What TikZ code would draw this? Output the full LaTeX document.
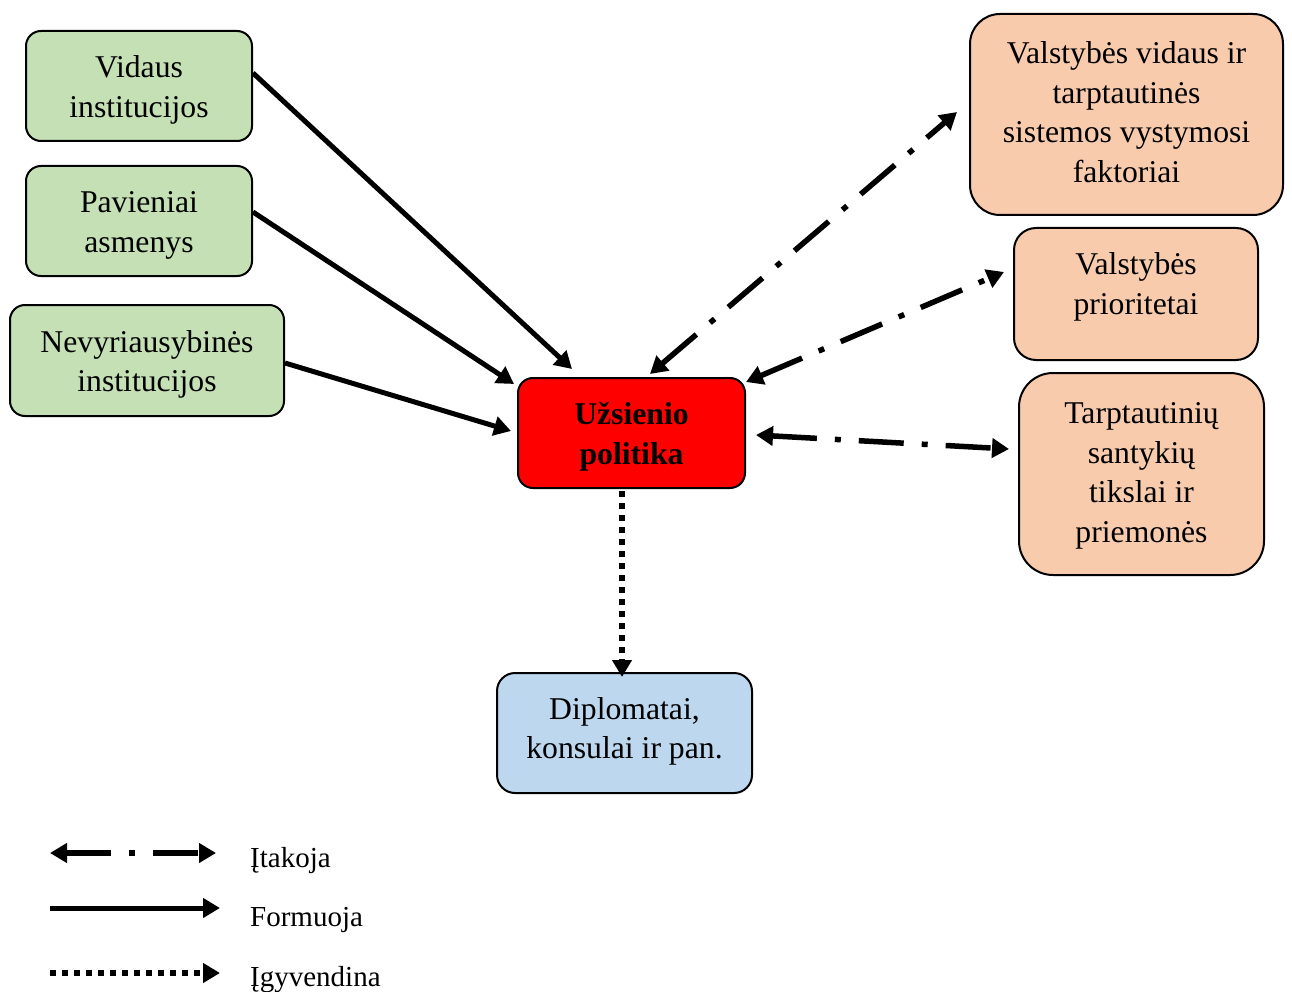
\documentclass[tikz,border=0pt]{standalone}
\usepackage{fontspec}
\setmainfont{Liberation Serif}
\usetikzlibrary{arrows.meta,calc}
\definecolor{boxgreen}{HTML}{C5E0B4}
\definecolor{boxred}{HTML}{FF0000}
\definecolor{boxblue}{HTML}{BDD7EE}
\definecolor{boxorange}{HTML}{F8CBAD}
\tikzset{
  box/.style={draw=black, line width=2pt, align=center, inner sep=2pt,
    font=\fontsize{31.7pt}{39.5pt}\selectfont},
  twolines/.style={text height=70.5pt, text depth=8pt},
  fourlines/.style={text height=144pt, text depth=8pt},
  greenbox/.style={box, twolines, fill=boxgreen, rounded corners=15pt},
  orangebox/.style={box, fill=boxorange},
  formarrow/.style={line width=5pt, -{Triangle[length=17pt,width=19pt]}},
  inflarrow/.style={line width=5.5pt, {Triangle[length=17pt,width=19pt]}-{Triangle[length=17pt,width=19pt]},
    dash pattern=on 45pt off 18pt on 6pt off 18pt},
  implarrow/.style={line width=5.5pt, -{Triangle[length=17pt,width=19pt]},
    dash pattern=on 5.5pt off 6.5pt},
  legendtext/.style={anchor=west, inner sep=0pt, font=\fontsize{29pt}{34pt}\selectfont}
}
\begin{document}
\begin{tikzpicture}[x=1pt, y=-1pt]
\useasboundingbox (0,0) rectangle (1292,992);

\node[greenbox, minimum width=226pt, minimum height=110pt] (vid) at (139,86) {Vidaus\\institucijos};
\node[greenbox, minimum width=226pt, minimum height=110pt] (pav) at (139,221) {Pavieniai\\asmenys};
\node[greenbox, minimum width=274pt, minimum height=111pt] (nev) at (147,360.5) {Nevyriausybinės\\institucijos};

\node[box, twolines, fill=boxred, rounded corners=15pt, minimum width=227pt, minimum height=110pt, font=\fontsize{31.7pt}{39.5pt}\selectfont\bfseries] (pol) at (631.5,433) {Užsienio\\politika};

\node[box, twolines, text depth=19pt, fill=boxblue, rounded corners=18pt, minimum width=255pt, minimum height=120pt] (dip) at (624.5,733) {Diplomatai,\\konsulai ir pan.};

\node[orangebox, fourlines, rounded corners=30pt, minimum width=313pt, minimum height=201pt] (val) at (1126.5,114.5) {Valstybės vidaus ir\\tarptautinės\\sistemos vystymosi\\faktoriai};
\node[orangebox, twolines, text depth=30pt, rounded corners=22pt, minimum width=244pt, minimum height=132pt] (pri) at (1136,294) {Valstybės\\prioritetai};
\node[orangebox, fourlines, rounded corners=34pt, minimum width=245pt, minimum height=202pt] (tar) at (1141.5,474) {Tarptautinių\\santykių\\tikslai ir\\priemonės};

% Formuoja
\draw[formarrow] ($(vid.east)+(0,-13)$) -- ($(pol.north)+(-59.5,-8)$);
\draw[formarrow] ($(pav.east)+(0,-9)$) -- ($(pol.north west)+(-3,7)$);
\draw[formarrow] ($(nev.east)+(0,2.5)$) -- ($(pol.west)+(-6,-2)$);

% Itakoja
\draw[inflarrow] ($(pol.north)+(18.5,-3)$) -- ($(val.west)+(-12,-2.5)$);
\draw[inflarrow] ($(pol.north east)+(0,5)$) -- ($(pri.west)+(-9,-22)$);
\draw[inflarrow] ($(pol.east)+(10,2)$) -- ($(tar.west)+(-9,-25)$);

% Igyvendina
\draw[implarrow] ($(pol.south)+(-9.5,2)$) -- ($(dip.north)+(-2.5,5)$);

% Legend
\coordinate (l1a) at (50,853);
\coordinate (l1b) at (216,853);
\coordinate (l2a) at (50,908);
\coordinate (l2b) at (220,908);
\coordinate (l3a) at (50,973);
\coordinate (l3b) at (220,973);
\draw[inflarrow] (l1a) -- (l1b);
\draw[formarrow] (l2a) -- (l2b);
\draw[implarrow] (l3a) -- (l3b);
\node[legendtext] (t1) at (250,861) {Įtakoja};
\node[legendtext] (t2) at (250,920) {Formuoja};
\node[legendtext] (t3) at (250,980) {Įgyvendina};
\end{tikzpicture}
\end{document}
